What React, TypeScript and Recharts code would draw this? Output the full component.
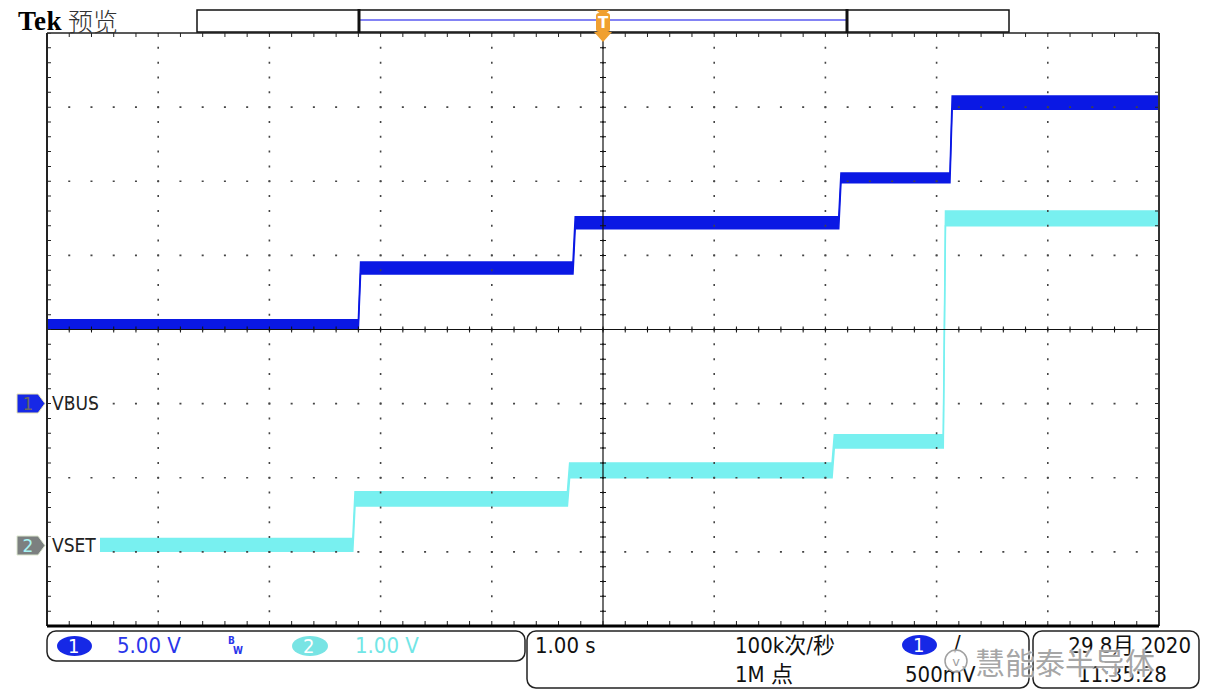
import React from 'react';
import { ComposedChart, Area, XAxis, YAxis, ReferenceLine } from 'recharts';

// Grid divisions (time in s at 1 s/div, vertical in divisions)
const timeDivs = [0, 1, 2, 3, 4, 5, 6, 7, 8, 9, 10];
const voltDivs = [-4, -3, -2, -1, 0, 1, 2, 3, 4];

// CH1 VBUS (5 V/div): step times and noise-band levels (divisions)
const ch1StepTimes = [2.8, 4.73, 7.12, 8.12];
const ch1Low = [0.01, 0.75, 1.36, 1.98, 2.97];
const ch1High = [0.13, 0.91, 1.52, 2.11, 3.15];

// CH2 VSET (1 V/div)
const ch2StepTimes = [2.75, 4.68, 7.06, 8.06];
const ch2Low = [-2.99, -2.38, -2.0, -1.6, 1.4];
const ch2High = [-2.82, -2.19, -1.8, -1.42, 1.6];

const RISE = 0.02;
const T_END = 10;

function buildSteps(times: number[], lo: number[], hi: number[]) {
  const pts: { t: number; v: [number, number] }[] = [{ t: 0, v: [lo[0], hi[0]] }];
  times.forEach((ts, i) => {
    pts.push({ t: ts, v: [lo[i], hi[i]] });
    pts.push({ t: ts + RISE, v: [lo[i + 1], hi[i + 1]] });
  });
  pts.push({ t: T_END, v: [lo[lo.length - 1], hi[hi.length - 1]] });
  return pts;
}

const ch1Data = buildSteps(ch1StepTimes, ch1Low, ch1High);
const ch2Data = buildSteps(ch2StepTimes, ch2Low, ch2High);

const BLUE = '#0a18e4';
const CYAN = '#78f0f0';
const PX_X = 111.2;
const PX_Y = 74.125;

const narrow = '"DejaVu Sans Condensed", "Liberation Sans Narrow", "DejaVu Sans", "Noto Sans CJK SC", sans-serif';

function Txt(props: { x: number; cy: number; size: number; color?: string; right?: boolean; family?: string; weight?: number | string; children: React.ReactNode; style?: React.CSSProperties }) {
  const { x, cy, size, color = '#111', right, family = narrow, weight = 'normal', children, style } = props;
  const base: React.CSSProperties = {
    position: 'absolute',
    top: cy - size * 0.6,
    height: size * 1.2,
    lineHeight: `${size * 1.2}px`,
    fontSize: size,
    fontFamily: family,
    fontStretch: 'condensed',
    fontWeight: weight as any,
    color,
    whiteSpace: 'nowrap',
  };
  if (right) base.right = 1210 - x;
  else base.left = x;
  return <div style={{ ...base, ...style }}>{children}</div>;
}

export default function App() {
  return (
    <div style={{ position: 'absolute', left: 0, top: 0, width: 1210, height: 698, background: '#fff', overflow: 'hidden' }}>
      <div style={{ position: 'absolute', left: 0, top: 0 }}>
        <ComposedChart width={1210} height={698} margin={{ top: 33, right: 51, bottom: 72, left: 47 }}>
          <XAxis type="number" dataKey="t" domain={[0, 10]} ticks={timeDivs} hide allowDataOverflow />
          <YAxis type="number" domain={[-4, 4]} ticks={voltDivs} hide allowDataOverflow />
          <Area data={ch2Data} dataKey="v" type="linear" stroke={CYAN} strokeWidth={1.5} fill={CYAN} fillOpacity={1} isAnimationActive={false} dot={false} activeDot={false} />
          <Area data={ch1Data} dataKey="v" type="linear" stroke={BLUE} strokeWidth={1.5} fill={BLUE} fillOpacity={1} isAnimationActive={false} dot={false} activeDot={false} />
          {timeDivs.filter((v) => v !== 0 && v !== 10).map((v) => (
            <ReferenceLine key={'vx' + v} x={v} stroke="#444" strokeWidth={1.6} strokeDasharray="2 12.825" strokeDashoffset={1} />
          ))}
          {voltDivs.filter((v) => v !== -4 && v !== 4).map((v) => (
            <ReferenceLine key={'hy' + v} y={v} stroke="#444" strokeWidth={1.6} strokeDasharray="2 20.24" strokeDashoffset={1} />
          ))}
          <ReferenceLine y={0} stroke="#111" strokeWidth={1.2} />
          <ReferenceLine x={5} stroke="#111" strokeWidth={1.2} />
          <ReferenceLine y={0} stroke="#111" strokeWidth={6} strokeDasharray="1 21.24" strokeDashoffset={0.5} />
          <ReferenceLine x={5} stroke="#111" strokeWidth={6} strokeDasharray="1 13.825" strokeDashoffset={0.5} />
          <ReferenceLine y={4 - 2 / PX_Y} stroke="#222" strokeWidth={4} strokeDasharray="1 21.24" strokeDashoffset={0.5} />
          <ReferenceLine y={-4 + 3 / PX_Y} stroke="#222" strokeWidth={4} strokeDasharray="1 21.24" strokeDashoffset={0.5} />
          <ReferenceLine x={2 / PX_X} stroke="#222" strokeWidth={4} strokeDasharray="1 13.825" strokeDashoffset={0.5} />
          <ReferenceLine x={10 - 2 / PX_X} stroke="#222" strokeWidth={4} strokeDasharray="1 13.825" strokeDashoffset={0.5} />
          <ReferenceLine x={0} stroke="#222" strokeWidth={2} />
          <ReferenceLine x={10} stroke="#333" strokeWidth={2} />
          <ReferenceLine y={4} stroke="#222" strokeWidth={1.5} />
          <ReferenceLine y={-4} stroke="#000" strokeWidth={3} />
        </ComposedChart>
      </div>

      {/* decorations */}
      <svg width={1210} height={698} style={{ position: 'absolute', left: 0, top: 0, pointerEvents: 'none' }}>
        {/* record bar */}
        <rect x={197} y={10} width={812} height={22} fill="#fff" stroke="#111" strokeWidth={1.5} />
        <line x1={360} y1={20} x2={846} y2={20} stroke="#5a5af0" strokeWidth={1.5} />
        <line x1={359} y1={9} x2={359} y2={33} stroke="#111" strokeWidth={3} />
        <line x1={847} y1={9} x2={847} y2={33} stroke="#111" strokeWidth={3} />
        {/* trigger marker */}
        <polygon points="596,10 610,10 603,16" fill="#f0a030" />
        <rect x={596} y={13} width={14} height={19} rx={3} fill="#f0a030" />
        <text x={603} y={28} textAnchor="middle" fontSize={15} fontWeight="bold" fill="#fff" fontFamily="DejaVu Sans">T</text>
        <polygon points="594,32 612,32 603,42" fill="#f0a030" />
        {/* channel markers */}
        <polygon points="17,394 38,394 45,403.5 38,413 17,413" fill="#1628e6" stroke="#e8e4b0" strokeWidth={1} />
        <text x={28} y={410} textAnchor="middle" fontSize={17} fill="#666" fontFamily="DejaVu Sans">1</text>
        <polygon points="17,536 38,536 45,545.5 38,555 17,555" fill="#7c8080" stroke="#dde8d0" strokeWidth={1} />
        <text x={28} y={552} textAnchor="middle" fontSize={17} fill="#a8f4f4" fontFamily="DejaVu Sans">2</text>
        {/* bottom boxes */}
        <rect x={47} y={631} width={478} height={30} rx={9} fill="none" stroke="#222" strokeWidth={1.5} />
        <rect x={527} y={631} width={502} height={57} rx={9} fill="none" stroke="#222" strokeWidth={1.5} />
        <rect x={1033} y={631} width={166} height={57} rx={9} fill="none" stroke="#222" strokeWidth={1.5} />
        <ellipse cx={74.5} cy={646} rx={17.5} ry={10} fill="#1628e6" />
        <ellipse cx={310} cy={646} rx={18} ry={10} fill="#78e4e4" />
        <ellipse cx={919.5} cy={645} rx={17.5} ry={10} fill="#1628e6" />
      </svg>

      <div style={{ position: 'absolute', left: 48, top: 537, width: 52, height: 17, background: '#fff' }} />

      <Txt x={18} cy={21} size={27} family='"Liberation Serif", serif' weight="bold" color="#000" style={{ fontStretch: 'normal', letterSpacing: 0.5 }}>Tek</Txt>
      <Txt x={68} cy={20} size={25} family='"Noto Sans CJK SC", sans-serif' weight={300} color="#333" style={{ fontStretch: 'normal' }}>预览</Txt>
      <Txt x={52} cy={403} size={19} color="#222">VBUS</Txt>
      <Txt x={52} cy={545} size={19} color="#222">VSET</Txt>

      <Txt x={68} cy={646} size={20} color="#fff">1</Txt>
      <Txt x={117} cy={646} size={22} color="#2a36ea">5.00 V</Txt>
      <Txt x={228} cy={641} size={10} color="#2a36ea" weight="bold">B</Txt>
      <Txt x={233} cy={651} size={10} color="#2a36ea" weight="bold">W</Txt>
      <Txt x={303} cy={646} size={20} color="#fff">2</Txt>
      <Txt x={355} cy={646} size={22} color="#72e6e6">1.00 V</Txt>

      <Txt x={535} cy={646} size={22}>1.00 s</Txt>
      <Txt x={735} cy={646} size={22}>100k次/秒</Txt>
      <Txt x={735} cy={675} size={22}>1M 点</Txt>
      <Txt x={913} cy={645} size={20} color="#fff">1</Txt>
      <Txt x={954} cy={644} size={22}>/</Txt>
      <Txt x={905} cy={675} size={22}>500mV</Txt>
      <Txt x={1191} cy={646} size={22} right>29 8月 2020</Txt>
      <Txt x={1078} cy={675} size={22}>11:35:28</Txt>

      {/* watermark */}
      <svg width={40} height={40} style={{ position: 'absolute', left: 938, top: 641 }}>
        <circle cx={18} cy={20} r={11} fill="rgba(255,255,255,0.7)" stroke="#a0a0a0" strokeWidth={1.5} />
        <text x={18} y={25} textAnchor="middle" fontSize={13} fill="#a0a0a0" fontFamily="DejaVu Sans">v</text>
      </svg>
      <Txt x={975} cy={661} size={30} family='"Noto Sans CJK SC", sans-serif' color="rgba(150,150,150,0.85)" style={{ fontStretch: 'normal', textShadow: '0 0 2px #fff, 0 0 2px #fff' }}>慧能泰半导体</Txt>
    </div>
  );
}
